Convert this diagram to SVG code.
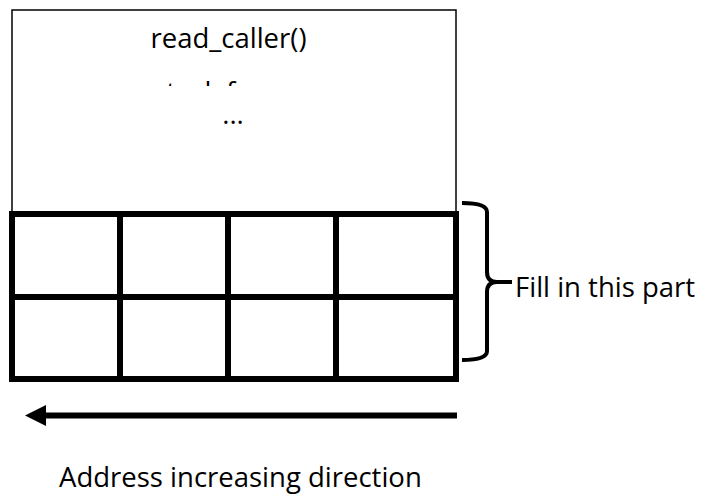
<svg xmlns="http://www.w3.org/2000/svg" width="712" height="498" viewBox="0 0 712 498">
<style>
.t{font-family:"Open Sans","Noto Sans","DejaVu Sans",sans-serif;font-size:27.5px;fill:#000}
.thick{fill:none;stroke:#000;stroke-width:6}
</style>
<defs>
<clipPath id="clipSF"><rect x="0" y="0" width="712" height="86"/></clipPath>
</defs>
<rect width="712" height="498" fill="#fff"/>
<g id="frame">
<rect x="12" y="10" width="444" height="203" fill="#fff" stroke="#000" stroke-width="1.5"/>
<text class="t" x="228.5" y="48" text-anchor="middle">read_caller()</text>
<text class="t" x="228" y="102" text-anchor="middle" clip-path="url(#clipSF)">stack frame</text>
<text class="t" x="233" y="124" text-anchor="middle">...</text>
</g>
<g id="grid">
<rect class="thick" x="12" y="214" width="444" height="165"/>
<line class="thick" x1="12" y1="297" x2="456" y2="297"/>
<line class="thick" x1="120" y1="214" x2="120" y2="379"/>
<line class="thick" x1="228" y1="214" x2="228" y2="379"/>
<line class="thick" x1="336" y1="214" x2="336" y2="379"/>
</g>
<g id="label">
<text class="t" x="515" y="297">Fill in this part</text>
</g>
<g id="address">
<text class="t" x="59" y="487">Address increasing direction</text>
</g>
<g id="connectors">
<path d="M462,203 Q487,203 487,212 L487,272 Q487,282 497,282 L512,282 M497,282 Q487,282 487,292 L487,351 Q487,360 462,360" fill="none" stroke="#000" stroke-width="4"/>
<line x1="457" y1="415.5" x2="44" y2="415.5" stroke="#000" stroke-width="6"/>
<path d="M25,415.5 L46,405 L46,426 Z" fill="#000"/>
</g>
</svg>
